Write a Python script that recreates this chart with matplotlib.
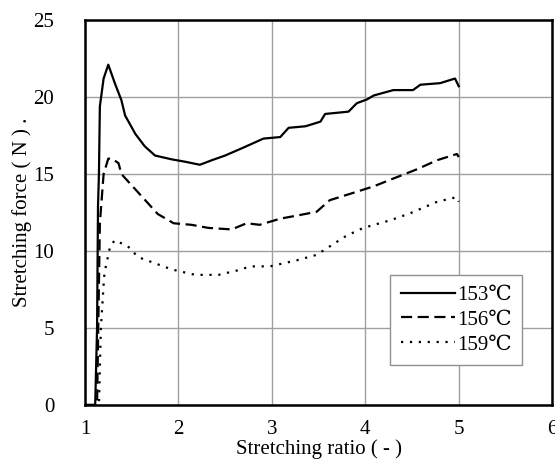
import matplotlib
matplotlib.use("Agg")
import matplotlib.pyplot as plt

plt.rcParams['font.family'] = ['Liberation Serif', 'DejaVu Serif']

# 153 C curve
x153 = [1.0, 1.11, 1.13, 1.14, 1.15, 1.16, 1.20, 1.25, 1.32, 1.39, 1.43, 1.54, 1.64, 1.75,
        1.93, 2.07, 2.23, 2.36, 2.5, 2.69, 2.91, 3.09, 3.18, 3.36, 3.52, 3.57, 3.82,
        3.91, 4.02, 4.09, 4.3, 4.51, 4.59, 4.8, 4.96, 5.0]
y153 = [0.0, 0.0, 5.0, 12.9, 15.0, 19.4, 21.2, 22.1, 20.9, 19.8, 18.8, 17.6, 16.8, 16.2,
        15.95, 15.8, 15.6, 15.9, 16.2, 16.7, 17.3, 17.4, 18.0, 18.1, 18.4, 18.9, 19.05,
        19.6, 19.85, 20.1, 20.45, 20.45, 20.8, 20.9, 21.2, 20.7]

# 156 C curve
x156 = [1.0, 1.13, 1.16, 1.2, 1.25, 1.29, 1.36, 1.39, 1.54, 1.66, 1.78, 1.95, 2.14, 2.32,
        2.57, 2.73, 2.87, 3.09, 3.27, 3.48, 3.62, 3.91, 4.09, 4.34, 4.55, 4.77, 4.98, 5.0]
y156 = [0.0, 0.0, 11.8, 15.0, 16.0, 16.0, 15.7, 15.0, 14.0, 13.2, 12.4, 11.8, 11.7, 11.5,
        11.4, 11.8, 11.7, 12.1, 12.3, 12.55, 13.3, 13.85, 14.2, 14.8, 15.3, 15.9, 16.3, 16.1]

# 159 C curve
x159 = [1.0, 1.15, 1.17, 1.2, 1.21, 1.27, 1.32, 1.46, 1.57, 1.75, 1.93, 2.18, 2.43, 2.64,
        2.77, 2.98, 3.27, 3.48, 3.62, 3.8, 3.98, 4.27, 4.48, 4.77, 4.98, 5.0]
y159 = [0.0, 0.0, 4.9, 7.8, 8.6, 10.3, 10.7, 10.3, 9.6, 9.2, 8.8, 8.45, 8.45, 8.75,
        9.0, 9.0, 9.4, 9.75, 10.3, 11.0, 11.5, 12.0, 12.45, 13.2, 13.5, 13.2]

labels = ["153\u2103", "156\u2103", "159\u2103"]

fig = plt.figure(figsize=(5.55, 4.66), dpi=100)
ax = fig.add_axes([0.153, 0.131, 0.842, 0.826])

ax.plot(x153, y153, color='black', lw=1.6, ls='-', label=labels[0])
ax.plot(x156, y156, color='black', lw=1.6, ls=(0, (5, 2.5)), label=labels[1])
ax.plot(x159, y159, color='black', lw=1.6, ls=(0, (1, 3)), label=labels[2])

ax.set_xlim(1, 6)
ax.set_ylim(0, 25)
ax.set_xticks([1, 2, 3, 4, 5, 6])
ax.set_yticks([0, 5, 10, 15, 20, 25])
ax.grid(True, color='#a0a0a0', lw=1)
ax.set_axisbelow(True)
ax.tick_params(length=0, labelsize=15)
ax.tick_params(axis='y', pad=22)
ax.tick_params(axis='x', pad=11)
for s in ax.spines.values():
    s.set_linewidth(1.8)

ax.set_xlabel("Stretching ratio ( - )", fontsize=15, labelpad=0)
ax.set_ylabel("Stretching force ( N ) .", fontsize=15, labelpad=1)

leg = ax.legend(loc='lower right', bbox_to_anchor=(0.936, 0.104), borderaxespad=0,
                fontsize=15, handlelength=2.6, handletextpad=0.1, fancybox=False,
                framealpha=1, edgecolor='#909090', labelspacing=0.25,
                borderpad=0.5)
leg.get_frame().set_linewidth(1)

fig.savefig("out.png", dpi=100)
